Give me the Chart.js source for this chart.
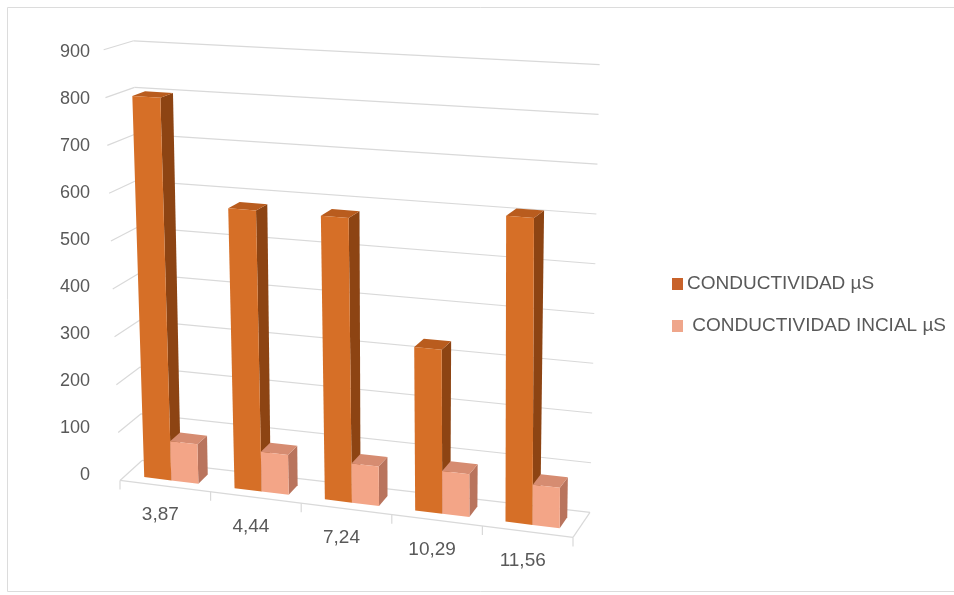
<!DOCTYPE html>
<html>
<head>
<meta charset="utf-8">
<script src="https://cdn.jsdelivr.net/npm/chart.js@4.4.0/dist/chart.umd.min.js"></script>
<style>
  html, body { margin: 0; padding: 0; background: #fff; }
  #wrap { width: 954px; height: 595px; }
</style>
</head>
<body>
<div id="wrap"><canvas id="chart" width="954" height="595"></canvas></div>
<script>
const categories = ["3,87", "4,44", "7,24", "10,29", "11,56"];
const conductividad = [800, 580, 580, 330, 610];
const conductividadInicial = [82, 82, 80, 86, 80];
const seriesLabels = ["CONDUCTIVIDAD µS", " CONDUCTIVIDAD INCIAL µS"];
const yMax = 900;
const yStep = 100;

// front / side / top shades for the 3d columns
const faces = [
  { front: "#d66f27", side: "#8d4413", top: "#b95c1e", key: "#c8622a" },
  { front: "#f3a587", side: "#b9745d", top: "#d68c71", key: "#efa68b" }
];
const gridColor = "#d9d9d9";
const textColor = "#595959";
const font = "'Liberation Sans', Arial, sans-serif";

// fake perspective: flat chart pixels -> skewed 3d-ish view
// d = depth, 0 at back wall, 1 at front edge of the floor
function project(chart, xf, v, d) {
  const { left, right } = chart.chartArea;
  const ys = chart.scales.y;
  const y0 = ys.getPixelForValue(0);
  const yPix = ys.getPixelForValue(v);
  const u = (y0 - yPix) / (y0 - ys.getPixelForValue(yMax));
  const p = (xf - left) / (right - left);
  const mid = left + (right - left) * 0.465;
  const bx = xf + (xf - mid) * 0.04 * u;
  const slope = 0.051 + (1 - u) * 0.065;
  const by = yPix - 11 - 4 * (1 - u) + slope * (bx - (left - 4));
  const dx = -22 + 5 * p - 8 * u;
  const dy = 20 + 5 * p - 11 * u;
  return [bx + d * dx, by + d * dy];
}

function poly(ctx, pts, fill) {
  ctx.beginPath();
  ctx.moveTo(pts[0][0], pts[0][1]);
  pts.slice(1).forEach(pt => ctx.lineTo(pt[0], pt[1]));
  ctx.closePath();
  ctx.fillStyle = fill;
  ctx.fill();
}

function line(ctx, a, b) {
  ctx.beginPath();
  ctx.moveTo(a[0], a[1]);
  ctx.lineTo(b[0], b[1]);
  ctx.stroke();
}

const view3d = {
  id: "view3d",
  beforeDraw(chart) {
    const ctx = chart.ctx;
    ctx.save();
    ctx.fillStyle = "#fff";
    ctx.fillRect(0, 0, chart.width, chart.height);
    ctx.strokeStyle = "#dcdcdc";
    ctx.lineWidth = 1;
    ctx.beginPath();
    ctx.moveTo(954, 7.5); ctx.lineTo(7.5, 7.5); ctx.lineTo(7.5, 591.5); ctx.lineTo(954, 591.5);
    ctx.stroke();
    ctx.restore();
  },
  beforeDatasetsDraw(chart) {
    const ctx = chart.ctx;
    const { left, right } = chart.chartArea;
    const xs = chart.scales.x;
    ctx.save();
    ctx.strokeStyle = gridColor;
    ctx.lineWidth = 1.2;

    // back wall + left wall lines
    for (let v = 0; v <= yMax; v += yStep) {
      line(ctx, project(chart, left, v, 0), project(chart, right, v, 0));
      line(ctx, project(chart, left, v, 0), project(chart, left, v, 1));
    }
    // floor
    line(ctx, project(chart, left, 0, 1), project(chart, right, 0, 1));
    line(ctx, project(chart, right, 0, 0), project(chart, right, 0, 1));
    const bounds = [left];
    for (let i = 0; i < categories.length - 1; i++) {
      bounds.push((xs.getPixelForTick(i) + xs.getPixelForTick(i + 1)) / 2);
    }
    bounds.push(right);
    bounds.forEach(xb => {
      const a = project(chart, xb, 0, 1);
      line(ctx, a, [a[0], a[1] + 9]);
    });

    // columns, left to right, the small one in front of the tall one's side
    const df = 0.72, db = 0.28;
    for (let i = 0; i < categories.length; i++) {
      chart.data.datasets.forEach((ds, k) => {
        const bar = chart.getDatasetMeta(k).data[i];
        const x0 = bar.x - bar.width / 2;
        const x1 = bar.x + bar.width / 2;
        const v = ds.data[i];
        const f = faces[k];
        poly(ctx, [project(chart, x1, 0, df), project(chart, x1, 0, db),
                   project(chart, x1, v, db), project(chart, x1, v, df)], f.side);
        poly(ctx, [project(chart, x0, v, df), project(chart, x1, v, df),
                   project(chart, x1, v, db), project(chart, x0, v, db)], f.top);
        poly(ctx, [project(chart, x0, 0, df), project(chart, x1, 0, df),
                   project(chart, x1, v, df), project(chart, x0, v, df)], f.front);
      });
    }

    // category labels along the front of the floor
    ctx.fillStyle = textColor;
    ctx.font = "19px " + font;
    ctx.textAlign = "center";
    ctx.textBaseline = "middle";
    categories.forEach((c, i) => {
      const a = project(chart, xs.getPixelForTick(i), 0, 1);
      ctx.fillText(c, a[0] - 5, a[1] + 29);
    });

    // legend
    ctx.textAlign = "left";
    ctx.font = "19px " + font;
    seriesLabels.forEach((lbl, k) => {
      const y = 284 + k * 42;
      ctx.fillStyle = faces[k].key;
      ctx.fillRect(672, y - 6, 11, 12);
      ctx.fillStyle = textColor;
      ctx.fillText(lbl, 687, y);
    });
    ctx.restore();
    return false;
  }
};

new Chart(document.getElementById("chart"), {
  type: "bar",
  data: {
    labels: categories,
    datasets: [
      { label: seriesLabels[0], data: conductividad, backgroundColor: faces[0].front },
      { label: seriesLabels[1], data: conductividadInicial, backgroundColor: faces[1].front }
    ]
  },
  options: {
    responsive: false,
    animation: false,
    events: [],
    layout: { padding: { left: 0, right: 364, top: 52, bottom: 120 } },
    datasets: { bar: { categoryPercentage: 0.6, barPercentage: 1.0 } },
    plugins: { legend: { display: false }, tooltip: { enabled: false } },
    scales: {
      x: {
        ticks: { display: false },
        grid: { display: false, drawTicks: false },
        border: { display: false },
        afterFit: s => { s.height = 0; }
      },
      y: {
        min: 0,
        max: yMax,
        ticks: { stepSize: yStep, padding: 52, color: textColor, font: { size: 18, family: font } },
        grid: { display: false, drawTicks: false },
        border: { display: false },
        afterFit: s => { s.width = 142; s.paddingTop = 0; s.paddingBottom = 0; }
      }
    }
  },
  plugins: [view3d]
});
</script>
</body>
</html>
